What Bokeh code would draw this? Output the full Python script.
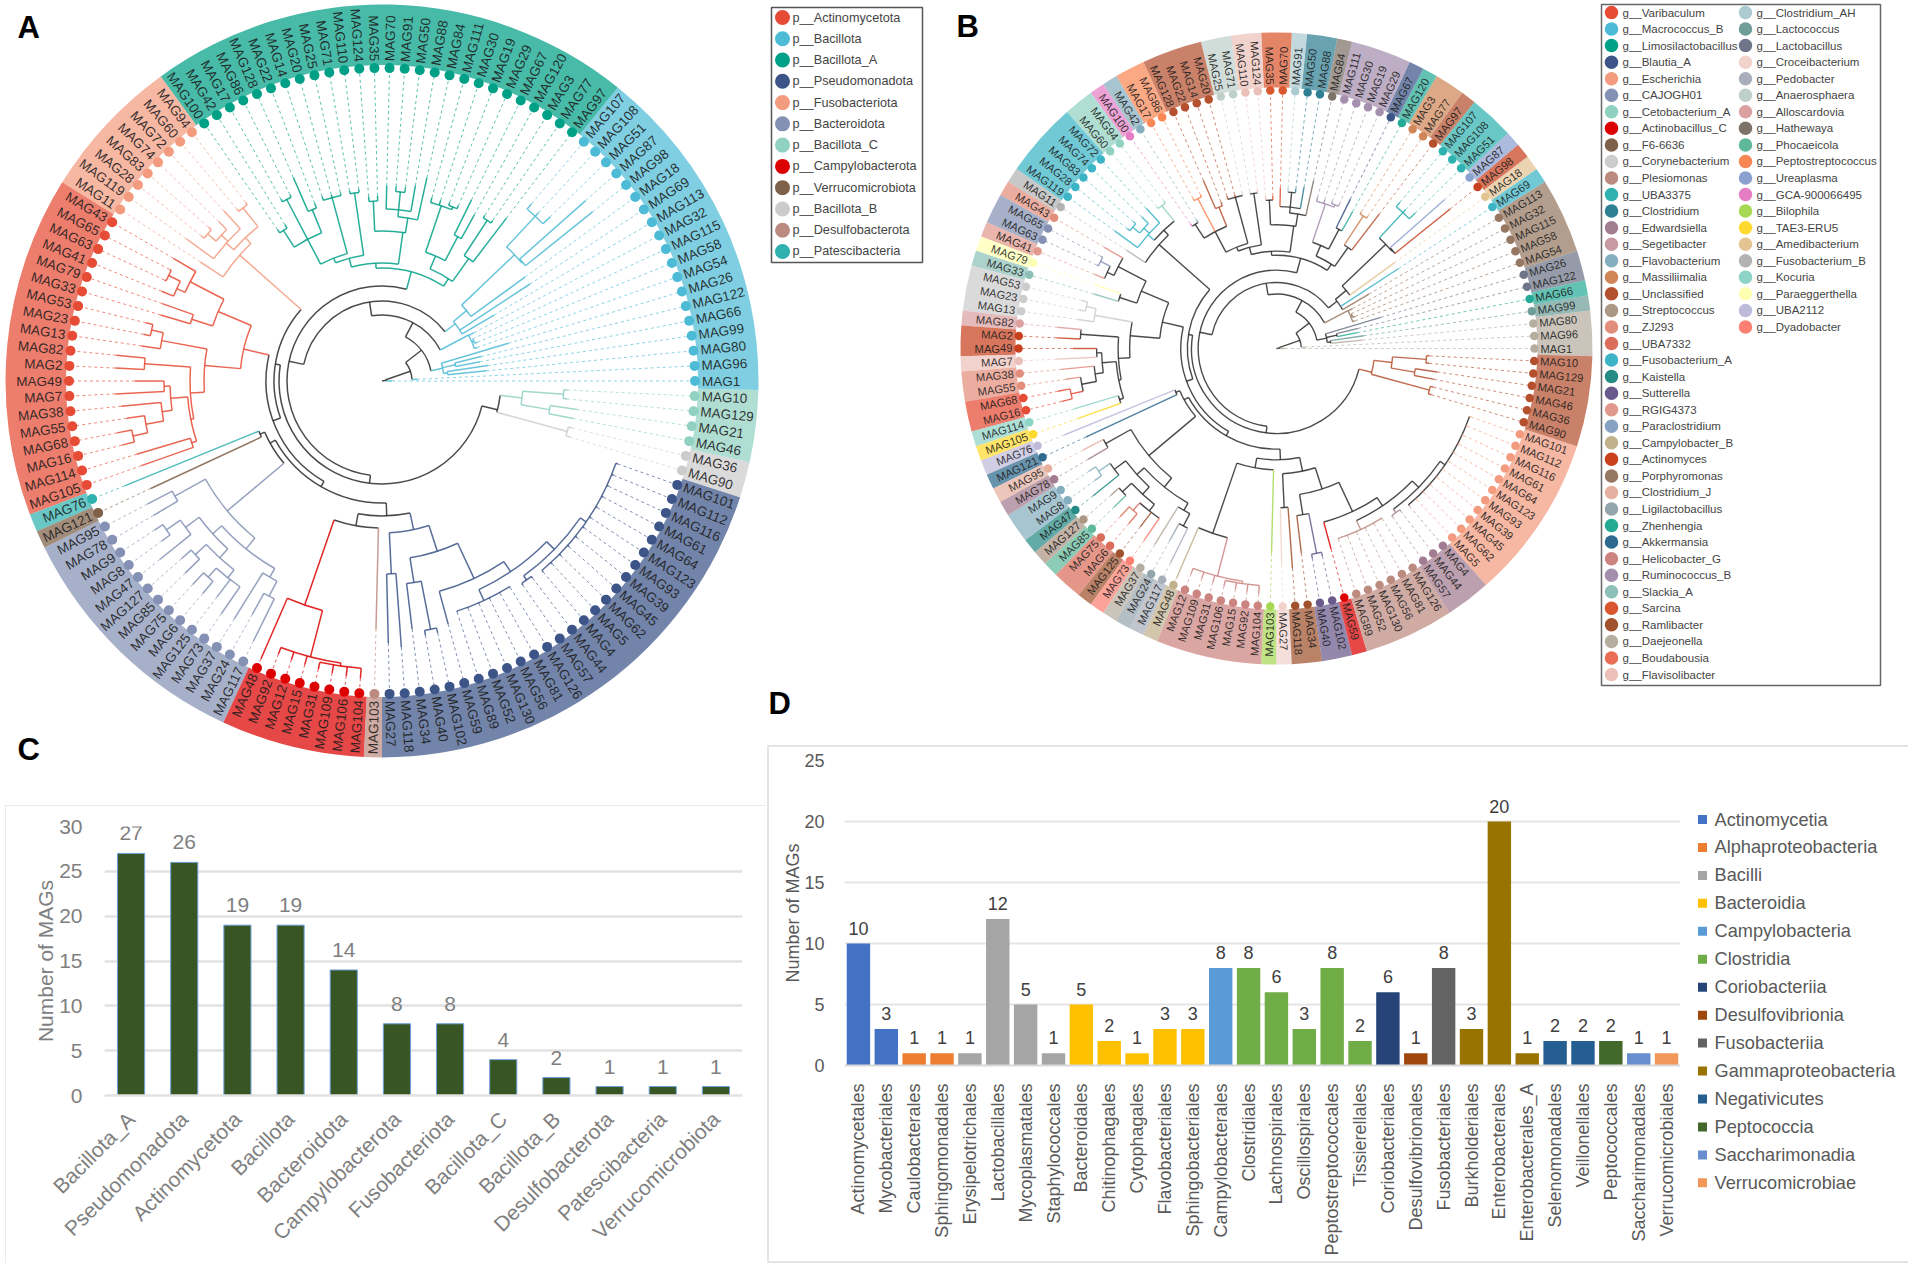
import math
from bokeh.embed import file_html
from bokeh.resources import INLINE
from bokeh.plotting import figure
from bokeh.models import Range1d, FactorRange, Row, Column
from bokeh.core.properties import value

# ---------------- data ----------------
mags_a = """MAG1 MAG96 MAG80 MAG99 MAG66 MAG122 MAG26 MAG54 MAG58 MAG115 MAG32 MAG113 MAG69 MAG18 MAG98 MAG87 MAG51 MAG108 MAG107
MAG97 MAG77 MAG3 MAG120 MAG67 MAG29 MAG19 MAG30 MAG111 MAG84 MAG88 MAG50 MAG91 MAG70 MAG35 MAG124 MAG110 MAG71 MAG25 MAG20 MAG14 MAG22 MAG128 MAG86 MAG17 MAG42 MAG100
MAG94 MAG60 MAG72 MAG74 MAG83 MAG28 MAG119 MAG11
MAG43 MAG65 MAG63 MAG41 MAG79 MAG33 MAG53 MAG23 MAG13 MAG82 MAG2 MAG49 MAG7 MAG38 MAG55 MAG68 MAG16 MAG114 MAG105
MAG76 MAG121
MAG95 MAG78 MAG9 MAG8 MAG47 MAG127 MAG85 MAG75 MAG6 MAG125 MAG73 MAG37 MAG24 MAG117
MAG48 MAG92 MAG12 MAG15 MAG31 MAG109 MAG106 MAG104
MAG103
MAG27 MAG118 MAG34 MAG40 MAG102 MAG59 MAG89 MAG52 MAG130 MAG56 MAG81 MAG126 MAG57 MAG44 MAG4 MAG5 MAG62 MAG45 MAG39 MAG93 MAG123 MAG64 MAG61 MAG116 MAG112 MAG101
MAG90 MAG36 MAG46 MAG21 MAG129 MAG10""".split()

mags_b = mags_a.copy()
mags_b[90:97] = "MAG12 MAG109 MAG31 MAG106 MAG15 MAG92 MAG104".split()

phyla = ["Actinomycetota", "Bacillota", "Bacillota_A", "Pseudomonadota", "Fusobacteriota", "Bacteroidota",
         "Bacillota_C", "Campylobacterota", "Verrucomicrobiota", "Bacillota_B", "Desulfobacterota", "Patescibacteria"]
phylum_colors = ["#E64B35", "#4DBBD5", "#00A087", "#3C5488", "#F39B7F", "#8491B4",
                 "#91D1C2", "#DC0000", "#7E6148", "#CCCCCC", "#BC8B80", "#2FB1AF"]
phylum_runs = [("Bacillota", 19), ("Bacillota_A", 27), ("Fusobacteriota", 8), ("Actinomycetota", 19),
               ("Patescibacteria", 1), ("Verrucomicrobiota", 1), ("Bacteroidota", 14), ("Campylobacterota", 8),
               ("Desulfobacterota", 1), ("Pseudomonadota", 26), ("Bacillota_B", 2), ("Bacillota_C", 4)]

genera_1 = ["Varibaculum", "Macrococcus_B", "Limosilactobacillus", "Blautia_A", "Escherichia", "CAJOGH01", "Cetobacterium_A",
            "Actinobacillus_C", "F6-6636", "Corynebacterium", "Plesiomonas", "UBA3375", "Clostridium", "Edwardsiella",
            "Segetibacter", "Flavobacterium", "Massiliimalia", "Unclassified", "Streptococcus", "ZJ293", "UBA7332",
            "Fusobacterium_A", "Kaistella", "Sutterella", "RGIG4373", "Paraclostridium", "Campylobacter_B", "Actinomyces",
            "Porphyromonas", "Clostridium_J", "Ligilactobacillus", "Zhenhengia", "Akkermansia", "Helicobacter_G",
            "Ruminococcus_B", "Slackia_A", "Sarcina", "Ramlibacter", "Daejeonella", "Boudabousia", "Flavisolibacter"]
genus_colors_1 = ["#E64B35", "#4DBBD5", "#00A087", "#3C5488", "#F39B7F", "#8491B4", "#91D1C2", "#DC0000", "#7E6148", "#CCCCCC",
                  "#BC8B80", "#2FB1AF", "#2F7F93", "#A27C90", "#C79AA3", "#85AEBE", "#D08658", "#B5502F", "#AC9684", "#E28E7C",
                  "#DA6E5A", "#3CB4C6", "#258B85", "#6A5A8C", "#E0998C", "#86A2C2", "#C0B08C", "#C8401E", "#967862", "#E5B0A0",
                  "#95A5AE", "#25AA96", "#2E6A8E", "#CC8480", "#A58FAF", "#8CC0B8", "#D9562E", "#A0522D", "#B5ADA0", "#EA6E55",
                  "#EBC0B8"]
genera_2 = ["Clostridium_AH", "Lactococcus", "Lactobacillus", "Croceibacterium", "Pedobacter", "Anaerosphaera", "Alloscardovia",
            "Hathewaya", "Phocaeicola", "Peptostreptococcus", "Ureaplasma", "GCA-900066495", "Bilophila", "TAE3-ERU5",
            "Amedibacterium", "Fusobacterium_B", "Kocuria", "Paraeggerthella", "UBA2112", "Dyadobacter"]
genus_colors_2 = ["#ABCBD0", "#6F9E98", "#6E7588", "#F2D3CC", "#A9AEBB", "#BFD0C9", "#DBA0A0", "#7D7268", "#5FB89A", "#F98655",
                  "#8CA0D0", "#E57EC5", "#A6D854", "#FFD92F", "#E5C494", "#B3B3B3", "#8DD3C7", "#FFFFB3", "#BEBADA", "#FB8072"]
genus_runs = [("Daejeonella", 3), ("Lactococcus", 1), ("Zhenhengia", 1), ("Lactobacillus", 2), ("Porphyromonas", 5),
              ("Fusobacterium_A", 1), ("Amedibacterium", 1), ("Actinomyces", 1), ("Ureaplasma", 1), ("UBA3375", 3),
              ("Unclassified", 1), ("Massiliimalia", 2), ("Zhenhengia", 1), ("Blautia_A", 1), ("Ruminococcus_B", 4),
              ("Hathewaya", 1), ("Clostridium", 2), ("Clostridium_AH", 1), ("Sarcina", 2), ("Flavisolibacter", 2),
              ("Anaerosphaera", 2), ("Unclassified", 4), ("Peptostreptococcus", 2), ("Flavobacterium", 1), ("GCA-900066495", 1),
              ("Cetobacterium_A", 2), ("Fusobacterium_A", 5), ("Fusobacterium_B", 1), ("ZJ293", 1), ("CAJOGH01", 2),
              ("RGIG4373", 1), ("Paraeggerthella", 1), ("Slackia_A", 1), ("Corynebacterium", 3), ("Alloscardovia", 1),
              ("Actinomyces", 2), ("Flavisolibacter", 1), ("ZJ293", 2), ("Varibaculum", 2), ("Kocuria", 1), ("TAE3-ERU5", 1),
              ("UBA2112", 1), ("Akkermansia", 1), ("Clostridium_J", 1), ("Edwardsiella", 1), ("Flavobacterium", 2),
              ("Kaistella", 1), ("Streptococcus", 1), ("Phocaeicola", 1), ("UBA7332", 2), ("Ramlibacter", 1), ("Dyadobacter", 1),
              ("Daejeonella", 1), ("Ligilactobacillus", 1), ("Pedobacter", 1), ("Campylobacter_B", 1), ("Helicobacter_G", 7),
              ("Bilophila", 1), ("Croceibacterium", 1), ("Ramlibacter", 2), ("Sutterella", 2), ("Actinobacillus_C", 1),
              ("Plesiomonas", 6), ("Edwardsiella", 3), ("Escherichia", 11), ("Unclassified", 6)]


def N(r, *kids, a=None):
    return {"r": r, "kids": kids, "a": a}


# Tree: node radius (px), children in ring order; plain numbers are tips.
bac_low = N(62, N(66, 105, 107), N(75, 100, 102), 132)
bac_mid = N(98, 101, N(100, 103, 100), 104, a=28)
bac_high = N(93, 130, 177, N(110, 177, N(183, N(184, 270, 272), N(225, 235, 230, 232))), a=38)
bac_a = N(113,
          N(122, N(150, 205, N(192, 195, 195)), N(136, N(163, 190, 202), N(185, N(188, 191, 191), 190, 190)), a=57),
          N(118,
            N(150, N(165, 208, N(172, 198, N(190, 195, 195), 195)), N(180, 185, 185), a=82),
            N(127, N(190, 193, 193), N(132, N(190, 193, 193, 194),
                                       N(160, N(185, 190, 222), N(205, 208, 208), N(180, 184, 184))), a=105),
            a=93),
          a=75)
fuso = N(190, N(198, N(222, 225, 225), N(208, 232, N(217, 228, N(228, 232, 232)), 242)), 217, a=138.5)
actino = N(142,
           N(178, N(216, 242, N(225, N(238, 240, 240), 238)), N(200, 233, 231), a=157),
           N(178, N(224, N(236, 243, 243), 243),
             N(192, N(238, 267, 267),
               N(195, N(212, N(218, 247, 267), N(222, 262, N(240, 258, N(255, 270, 268)))), N(200, 256, 255))),
             a=175),
           a=167)
bacteroid = N(202, N(237, 265, 265),
              N(216, N(228, N(245, N(262, 272, 272), 285),
                       N(240, N(255, 268, 275), N(250, N(262, 278, 278), 272, 283))),
                N(226, 280, N(243, 267, 290)), a=231),
              a=220)
campy = N(237, 303, N(285, 292, 293, 294, N(288, 295, 296, 297, 298)))
pseudo = N(152,
           N(193, 262, 267),
           N(179,
             N(204, 250, N(253, 258, 258)),
             N(218, 252,
               N(230, N(242, 243, 243, 243, 243, 243, 243),
                 N(241, N(246, 248, 248), N(248, *[250] * 12)), a=304),
               a=295),
             a=288),
           a=282)
tail = N(119, N(192, 196, 196), N(141, N(170, 195, 197), N(182, 186, 186)), a=346)
tree = N(4, 10,
         N(30, 35,
           N(50, bac_low,
             N(66, bac_mid,
               N(80, bac_high,
                 N(95, bac_a,
                   N(103,
                     N(108, fuso,
                       N(116, actino,
                         N(122,
                           N(128, N(133, 278, 255), bacteroid, a=209),
                           N(135, N(147, campy, 248), pseudo, a=272),
                           a=240),
                         a=200),
                       a=171),
                     tail, a=263),
                   a=168),
                 a=99),
               a=62),
             a=38),
           a=19))

phylum_counts = [27, 26, 19, 19, 14, 8, 8, 4, 2, 1, 1, 1]
phylum_bar_names = ["Bacillota_A", "Pseudomonadota", "Actinomycetota", "Bacillota", "Bacteroidota", "Campylobacterota",
                    "Fusobacteriota", "Bacillota_C", "Bacillota_B", "Desulfobacterota", "Patescibacteria", "Verrucomicrobiota"]

orders = ["Actinomycetales", "Mycobacteriales", "Caulobacterales", "Sphingomonadales", "Erysipelotrichales", "Lactobacillales",
          "Mycoplasmatales", "Staphylococcales", "Bacteroidales", "Chitinophagales", "Cytophagales", "Flavobacteriales",
          "Sphingobacteriales", "Campylobacterales", "Clostridiales", "Lachnospirales", "Oscillospirales", "Peptostreptococcales",
          "Tissierellales", "Coriobacteriales", "Desulfovibrionales", "Fusobacteriales", "Burkholderiales", "Enterobacterales",
          "Enterobacterales_A", "Selenomonadales", "Veillonellales", "Peptococcales", "Saccharimonadales", "Verrucomicrobiales"]
order_counts = [10, 3, 1, 1, 1, 12, 5, 1, 5, 2, 1, 3, 3, 8, 8, 6, 3, 8, 2, 6, 1, 8, 3, 20, 1, 2, 2, 2, 1, 1]
classes = ["Actinomycetia", "Alphaproteobacteria", "Bacilli", "Bacteroidia", "Campylobacteria", "Clostridia", "Coriobacteriia",
           "Desulfovibrionia", "Fusobacteriia", "Gammaproteobacteria", "Negativicutes", "Peptococcia", "Saccharimonadia",
           "Verrucomicrobiae"]
class_sizes = [2, 2, 4, 5, 1, 5, 1, 1, 1, 3, 2, 1, 1, 1]
class_colors = ["#4472C4", "#ED7D31", "#A5A5A5", "#FFC000", "#5B9BD5", "#70AD47", "#264478", "#9E480E", "#636363", "#997300",
                "#255E91", "#43682B", "#698ED0", "#F1975A"]

# ---------------- helpers ----------------
PAGE_H = 1266
FONT = value("Liberation Sans")
STEP = 360 / 130
BOX = {"outline": "2px solid #E4E4E4", "outline-offset": "-2px"}
OPEN_BOX = {"box-shadow": "inset 2px 0 #E4E4E4, inset 0 2px #E4E4E4, inset 0 -2px #E4E4E4"}


def Y(py):
    return PAGE_H - py


def page_figure(x0, x1, py0, py1):
    p = figure(width=x1 - x0, height=py1 - py0, x_range=Range1d(x0, x1), y_range=Range1d(Y(py1), Y(py0)),
               x_axis_type=None, y_axis_type=None, output_backend="svg", toolbar_location=None,
               min_border=0, outline_line_color=None, border_fill_alpha=0, background_fill_alpha=0)
    p.grid.visible = False
    return p


def expand(runs):
    out = []
    for name, n in runs:
        out += [name] * n
    return out


def draw_tree(p, names, groups, palette, cx, cy, R, inner, dot_r, text_r, scale, fs, dot_size, line_w):
    arcs = dict(x=[], y=[], radius=[], start_angle=[], end_angle=[], line_color=[])
    stems = dict(x0=[], y0=[], x1=[], y1=[], line_color=[])
    dashes = dict(x0=[], y0=[], x1=[], y1=[], line_color=[])
    counter = [0]

    def pt(r, a):
        t = math.radians(a)
        return cx + r * math.cos(t), Y(cy) + r * math.sin(t)

    def stem(d, r0, r1, a, col):
        x0, y0 = pt(r0, a)
        x1, y1 = pt(r1, a)
        d["x0"].append(x0); d["y0"].append(y0); d["x1"].append(x1); d["y1"].append(y1)
        d["line_color"].append(col)

    def walk(node, parent_r):
        if not isinstance(node, dict):
            i = counter[0]
            counter[0] += 1
            a = i * STEP
            r = node * scale
            col = palette[groups[i]]
            stem(stems, parent_r, r, a, col)
            stem(dashes, r, dot_r, a, col)
            return a, {groups[i]}
        r = node["r"] * scale
        res = [walk(k, r) for k in node["kids"]]
        angs = [q[0] for q in res]
        members = set().union(*[q[1] for q in res])
        a = node["a"] if node["a"] is not None else (angs[0] + angs[-1]) / 2
        col = palette[next(iter(members))] if len(members) == 1 else "#2b2b2b"
        stem(stems, parent_r, r, a, col)
        lo, hi = min(angs + [a]), max(angs + [a])
        arcs["x"].append(cx); arcs["y"].append(Y(cy)); arcs["radius"].append(r)
        arcs["start_angle"].append(math.radians(lo)); arcs["end_angle"].append(math.radians(hi))
        arcs["line_color"].append(col)
        return a, members

    walk(tree, 0)
    assert counter[0] == 130, counter[0]

    # ring
    wedge = dict(start_angle=[], end_angle=[], fill_color=[])
    i = 0
    while i < 130:
        j = i
        while j + 1 < 130 and groups[j + 1] == groups[i]:
            j += 1
        wedge["start_angle"].append(math.radians((i - 0.5) * STEP))
        wedge["end_angle"].append(math.radians((j + 0.5) * STEP))
        wedge["fill_color"].append(palette[groups[i]])
        i = j + 1
    p.annular_wedge(x=cx, y=Y(cy), inner_radius=inner, outer_radius=R, fill_alpha=0.72, line_color=None, **wedge)

    p.segment(line_width=1, line_dash="3 3", line_alpha=0.65, **dashes)
    p.arc(line_width=line_w, line_alpha=0.85, **arcs)
    p.segment(line_width=line_w, line_alpha=0.85, **stems)

    dots = [pt(dot_r, k * STEP) for k in range(130)]
    p.scatter([d[0] for d in dots], [d[1] for d in dots], size=dot_size, line_color=None,
              fill_color=[palette[g] for g in groups])

    for side in ("right", "left"):
        idx = [k for k in range(130) if (math.cos(math.radians(k * STEP)) >= 0) == (side == "right")]
        pts = [pt(text_r, k * STEP) for k in idx]
        ang = [math.radians(k * STEP + (0 if side == "right" else 180)) for k in idx]
        p.text([q[0] for q in pts], [q[1] for q in pts], text=[names[k] for k in idx], angle=ang,
               text_font=FONT, text_font_size=f"{fs}px", text_color="#1c1c1c", text_alpha=0.9,
               text_align="left" if side == "right" else "right", text_baseline="middle")


def draw_key(p, labels, colors, prefix, dot_x, text_x, y0, dy, fs, size, marker="circle", text_color="#444444"):
    ys = [Y(y0 + k * dy) for k in range(len(labels))]
    p.scatter([dot_x] * len(labels), ys, size=size, marker=marker, fill_color=colors, line_color=None)
    p.text([text_x] * len(labels), ys, text=[prefix + s for s in labels], text_font=FONT, text_font_size=f"{fs}px",
           text_color=text_color, text_baseline="middle")


def letter(p, s, x, py):
    p.text([x], [Y(py)], text=[s], text_font=FONT, text_font_size="31px", text_font_style="bold",
           text_color="#000000", text_baseline="middle")


# ---------------- panels A, B ----------------
phylum_of = expand(phylum_runs)
genus_of = expand(genus_runs)
assert len(genus_of) == 130, len(genus_of)

fig_a = page_figure(0, 767, 0, 805)
draw_tree(fig_a, mags_a, phylum_of, dict(zip(phyla, phylum_colors)),
          381.5, 380.5, 376.5, 316, 313, 320, 1.0, 13.5, 10, 1.5)
letter(fig_a, "A", 17, 27)
letter(fig_a, "C", 17, 749)

fig_b = page_figure(767, 1908, 0, 745)
genus_palette = dict(zip(genera_1 + genera_2, genus_colors_1 + genus_colors_2))
draw_tree(fig_b, mags_b, genus_of, genus_palette,
          1276, 348, 316, 261, 258, 264, 0.825, 11.2, 8.5, 1.4)
letter(fig_b, "B", 956, 26)
letter(fig_b, "D", 768, 703)

fig_b.quad(left=771, right=922, top=Y(7), bottom=Y(262), fill_color=None, line_color="#555555", line_width=1.5)
draw_key(fig_b, phyla, phylum_colors, "p__", 782, 792, 17, 21.27, 12.7, 15)
fig_b.quad(left=1601, right=1880, top=Y(4), bottom=Y(685), fill_color=None, line_color="#666666", line_width=1.5)
draw_key(fig_b, genera_1, genus_colors_1, "g__", 1611, 1622, 12, 16.55, 11.5, 13.5)
draw_key(fig_b, genera_2, genus_colors_2, "g__", 1745, 1756, 12, 16.55, 11.5, 13.5)

# ---------------- panel C ----------------
fig_c = figure(width=761, height=458, margin=(0, 1, 3, 5), x_range=FactorRange(*phylum_bar_names), y_range=Range1d(0, 30),
               output_backend="svg", toolbar_location=None, outline_line_color=None, styles=BOX,
               min_border_left=99, min_border_right=24, min_border_top=21, min_border_bottom=168)
fig_c.vbar(x=phylum_bar_names, top=phylum_counts, width=0.51, fill_color="#375623", line_color="#6FA0DC", line_width=1)
fig_c.text(x=phylum_bar_names, y=phylum_counts, text=[str(v) for v in phylum_counts], y_offset=-13, text_font=FONT,
           text_font_size="21px", text_color="#7F7F7F", text_align="center", text_baseline="bottom")
fig_c.yaxis.ticker = [0, 5, 10, 15, 20, 25, 30]
fig_c.xgrid.visible = False
fig_c.ygrid.grid_line_color = "#E2E2E2"
fig_c.ygrid.grid_line_width = 2.5
fig_c.yaxis.axis_line_color = None
fig_c.axis.major_tick_line_color = None
fig_c.axis.minor_tick_line_color = None
fig_c.xaxis.axis_line_color = "#E2E2E2"
fig_c.xaxis.axis_line_width = 2.5
fig_c.axis.major_label_text_font = "Liberation Sans"
fig_c.axis.major_label_text_color = "#7F7F7F"
fig_c.axis.major_label_text_font_size = "21px"
fig_c.xaxis.major_label_orientation = math.pi / 4
fig_c.xaxis.major_label_standoff = 14
fig_c.yaxis.major_label_standoff = 16
fig_c.yaxis.axis_label = "Number of MAGs"
fig_c.yaxis.axis_label_text_font = "Liberation Sans"
fig_c.yaxis.axis_label_text_font_style = "normal"
fig_c.yaxis.axis_label_text_font_size = "21px"
fig_c.yaxis.axis_label_text_color = "#7F7F7F"
fig_c.yaxis.axis_label_standoff = -1

# ---------------- panel D ----------------
fig_d = figure(width=913, height=518, x_range=FactorRange(*orders), y_range=Range1d(0, 25),
               output_backend="svg", toolbar_location=None, outline_line_color=None,
               border_fill_alpha=0, background_fill_alpha=0,
               min_border_left=77, min_border_right=0, min_border_top=15, min_border_bottom=198)
start = 0
for name, size, col in zip(classes, class_sizes, class_colors):
    fig_d.vbar(x=orders[start:start + size], top=order_counts[start:start + size], width=0.84,
               fill_color=col, line_color=None)
    start += size
fig_d.text(x=orders, y=order_counts, text=[str(v) for v in order_counts], y_offset=-9, text_font=FONT,
           text_font_size="18px", text_color="#404040", text_align="center", text_baseline="bottom")
fig_d.yaxis.ticker = [0, 5, 10, 15, 20, 25]
fig_d.xgrid.visible = False
fig_d.ygrid.grid_line_color = "#E5E5E5"
fig_d.ygrid.grid_line_width = 2
fig_d.yaxis.axis_line_color = None
fig_d.axis.major_tick_line_color = None
fig_d.axis.minor_tick_line_color = None
fig_d.xaxis.axis_line_color = "#D9D9D9"
fig_d.xaxis.axis_line_width = 2
fig_d.axis.major_label_text_font = "Liberation Sans"
fig_d.axis.major_label_text_color = "#595959"
fig_d.axis.major_label_text_font_size = "18px"
fig_d.xaxis.major_label_orientation = math.pi / 2
fig_d.xaxis.major_label_standoff = 12
fig_d.yaxis.major_label_standoff = 14
fig_d.yaxis.axis_label = "Number of MAGs"
fig_d.yaxis.axis_label_text_font = "Liberation Sans"
fig_d.yaxis.axis_label_text_font_style = "normal"
fig_d.yaxis.axis_label_text_font_size = "18px"
fig_d.yaxis.axis_label_text_color = "#595959"
fig_d.yaxis.axis_label_standoff = -2

fig_key = page_figure(1680, 1908, 745, 1263)
draw_key(fig_key, classes, class_colors, "", 1702, 1714, 819, 27.95, 18.2, 9, marker="square", text_color="#595959")

# each figure sits in its own box so that frames are not aligned with the neighbour's
panel_d = Row(children=[Column(children=[fig_d]), Column(children=[fig_key])], spacing=0, margin=(0, 0, 3, 0), styles=OPEN_BOX)
left = Column(children=[Row(children=[fig_a]), Row(children=[fig_c])], spacing=0)
right = Column(children=[Row(children=[fig_b]), panel_d], spacing=0)
page = Row(children=[left, right], spacing=0)
open("out.html", "w").write(file_html(page, INLINE))
